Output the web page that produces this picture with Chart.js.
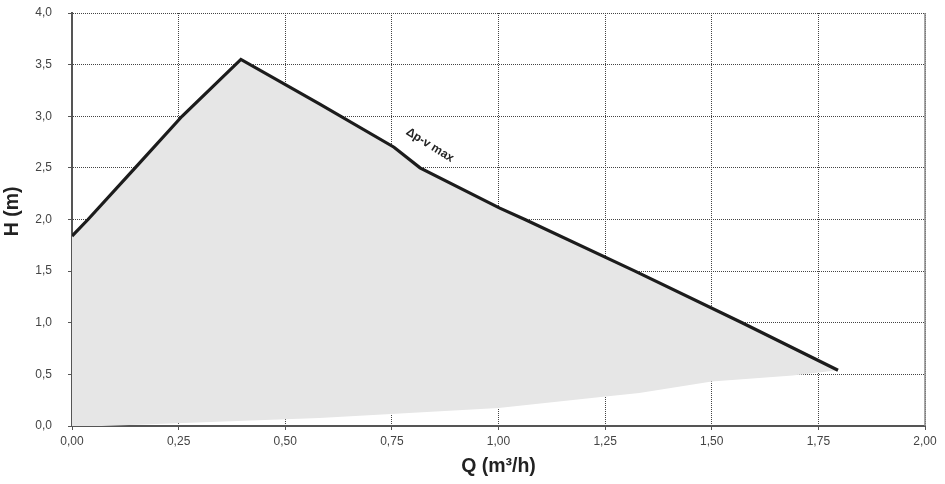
<!DOCTYPE html>
<html>
<head>
<meta charset="utf-8">
<script src="https://cdn.jsdelivr.net/npm/chart.js@4"></script>
<style>
  html, body { margin: 0; padding: 0; background: #fff; }
  #wrap { width: 945px; height: 484px; }
</style>
</head>
<body>
<div id="wrap"><canvas id="pumpChart"></canvas></div>
<script>
// pump curve
const flowQ = [0, 0.0375, 0.148, 0.258, 0.396, 0.58, 0.755, 0.816, 1.003, 1.062, 1.32, 1.571, 1.796];
const headH = [1.84, 2.0, 2.5, 3.0, 3.55, 3.12, 2.70, 2.5, 2.11, 2.0, 1.5, 1.0, 0.54];

// lower edge of the grey working area (right to left)
const lowerQ = [1.796, 1.69, 1.5, 1.33, 1.24, 1.0, 0.58, 0.07, 0];
const lowerH = [0.54, 0.49, 0.43, 0.32, 0.28, 0.175, 0.077, 0.0, 0];

const xTicks = [0, 0.25, 0.5, 0.75, 1.0, 1.25, 1.5, 1.75, 2.0];
const yTicks = [0, 0.5, 1.0, 1.5, 2.0, 2.5, 3.0, 3.5, 4.0];

const curveLabel = 'Δp-v max';
const labelAt = { x: 0.839, y: 2.72 };

const curve = flowQ.map((q, i) => ({ x: q, y: headH[i] }));
const area = curve.concat(lowerQ.map((q, i) => ({ x: q, y: lowerH[i] })));

const fontFam = '"Liberation Sans", Arial, sans-serif';

// right frame line + rotated curve label
const extras = {
  id: 'extras',
  afterDatasetsDraw(chart) {
    const { ctx, chartArea, scales } = chart;
    ctx.save();
    ctx.strokeStyle = '#8a8a8a';
    ctx.lineWidth = 1.5;
    ctx.beginPath();
    ctx.moveTo(chartArea.right, chartArea.top);
    ctx.lineTo(chartArea.right, chartArea.bottom);
    ctx.stroke();

    const px = scales.x.getPixelForValue(labelAt.x);
    const py = scales.y.getPixelForValue(labelAt.y);
    ctx.translate(px, py);
    ctx.rotate(32 * Math.PI / 180);
    ctx.font = 'bold 12px ' + fontFam;
    ctx.fillStyle = '#222';
    ctx.textAlign = 'center';
    ctx.textBaseline = 'middle';
    ctx.fillText(curveLabel, 0, 0);
    ctx.restore();
  }
};

new Chart(document.getElementById('pumpChart'), {
  type: 'line',
  data: {
    datasets: [
      {
        data: curve,
        borderColor: '#1c1c1c',
        borderWidth: 3.2,
        pointRadius: 0,
        fill: false,
        tension: 0,
        order: 0
      },
      {
        data: area,
        borderWidth: 0,
        borderColor: 'rgba(0,0,0,0)',
        backgroundColor: '#e6e6e6',
        pointRadius: 0,
        fill: 'shape',
        tension: 0,
        order: 1
      }
    ]
  },
  options: {
    responsive: true,
    maintainAspectRatio: false,
    animation: false,
    events: [],
    layout: { padding: { top: 13, right: 20, bottom: 0, left: 0 } },
    plugins: { legend: { display: false }, tooltip: { enabled: false } },
    scales: {
      x: {
        type: 'linear',
        min: 0,
        max: 2,
        afterBuildTicks: (s) => { s.ticks = xTicks.map(v => ({ value: v })); },
        afterFit: (s) => { s.height = 58; },
        ticks: {
          padding: 4,
          color: '#444',
          font: { family: fontFam, size: 12 },
          callback: (v) => Number(v).toFixed(2).replace('.', ',')
        },
        grid: { color: '#444', lineWidth: 1, tickLength: 4, tickColor: '#555' },
        border: { display: true, color: '#555', width: 2, dash: [1, 1] },
        title: {
          display: true,
          text: 'Q (m³/h)',
          color: '#222',
          font: { family: fontFam, size: 19.5, weight: 'bold' },
          padding: { top: 0, bottom: 6 }
        }
      },
      y: {
        min: 0,
        max: 4,
        afterBuildTicks: (s) => { s.ticks = yTicks.map(v => ({ value: v })); },
        afterFit: (s) => { s.width = 72; s.paddingTop = 7; s.paddingBottom = 7; },
        ticks: {
          padding: 16,
          color: '#444',
          font: { family: fontFam, size: 12 },
          callback: (v) => Number(v).toFixed(1).replace('.', ',')
        },
        grid: { color: '#444', lineWidth: 1, tickLength: 4, tickColor: '#555' },
        border: { display: true, color: '#555', width: 2, dash: [1, 1] },
        title: {
          display: true,
          text: '   H (m)',
          color: '#222',
          font: { family: fontFam, size: 19.5, weight: 'bold' },
          padding: { top: 1, bottom: 0 }
        }
      }
    }
  },
  plugins: [extras]
});
</script>
</body>
</html>
